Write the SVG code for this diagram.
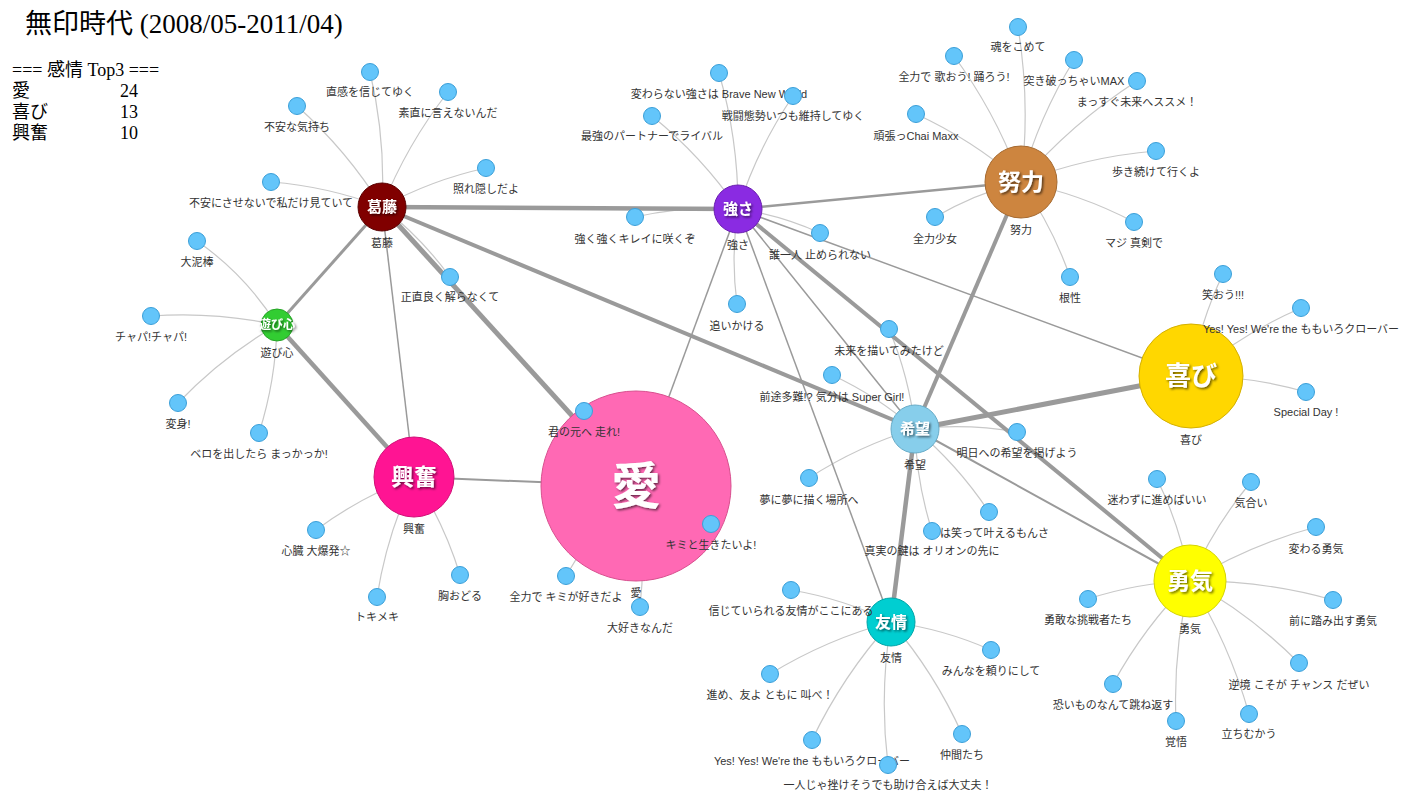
<svg xmlns="http://www.w3.org/2000/svg" width="1406" height="795" viewBox="0 0 1406 795">
<defs>
<filter id="sh" x="-30%" y="-30%" width="160%" height="160%"><feDropShadow dx="1.5" dy="1.5" stdDeviation="1" flood-color="#000" flood-opacity="0.6"/></filter>
<style>
.lk{fill:none;stroke:#c8c8c8;stroke-width:1.2}
.lb{fill:none;stroke:#9a9a9a}
.sn circle{fill:#63c5fa;stroke:#3b9fd8;stroke-width:1}
.lbl{font-family:"Liberation Sans","Noto Sans CJK JP",sans-serif;font-size:11px;fill:#333;text-anchor:middle}
.big{font-family:"Noto Sans CJK JP",sans-serif;font-weight:bold;fill:#fff;text-anchor:middle;filter:url(#sh)}
.hd{font-family:"Liberation Serif","Noto Sans CJK JP",serif;fill:#000}
</style>
</defs>
<rect width="1406" height="795" fill="#fff"/>
<text class="hd" x="25" y="33" font-size="27">無印時代 (2008/05-2011/04)</text>
<g class="hd" font-size="18">
<text x="12" y="76">=== 感情 Top3 ===</text>
<text x="12" y="97">愛</text><text x="120" y="97">24</text>
<text x="12" y="118">喜び</text><text x="120" y="118">13</text>
<text x="12" y="139">興奮</text><text x="120" y="139">10</text>
</g>
<g id="links">
<path class="lk" d="M370 72A474 474 0 0 1 382 207M382 207A464 464 0 0 1 448 92M297 106A462 462 0 0 1 382 207M382 207A389 389 0 0 1 486 168M271 182A398 398 0 0 1 382 207M382 207A342 342 0 0 1 450 277"/>
<path class="lk" d="M197 241A290 290 0 0 1 277 325M151 316A442 442 0 0 1 277 325M178 403A441 441 0 0 1 277 325M259 433A383 383 0 0 0 277 325"/>
<path class="lk" d="M316 530A390 390 0 0 1 414 477M377 597A440 440 0 0 1 414 477M414 477A379 379 0 0 1 460 575"/>
<path class="lk" d="M584 411A320 320 0 0 1 636 486M636 486A294 294 0 0 1 711 524M566 576A399 399 0 0 1 636 486M636 486A424 424 0 0 1 640 607"/>
<path class="lk" d="M719 73A481 481 0 0 1 738 209M738 209A440 440 0 0 1 793 96M652 116A443 443 0 0 1 738 209M635 217A362 362 0 0 1 738 209M738 209A299 299 0 0 1 820 233M737 304A333 333 0 0 1 738 209"/>
<path class="lk" d="M1018 27A543 543 0 0 1 1021 182M954 56A499 499 0 0 1 1021 182M1021 182A466 466 0 0 1 1074 60M1021 182A538 538 0 0 1 1137 81M916 114A438 438 0 0 1 1021 182M1021 182A485 485 0 0 1 1156 151M935 217A325 325 0 0 1 1021 182M1021 182A420 420 0 0 1 1134 222M1021 182A374 374 0 0 1 1070 277"/>
<path class="lk" d="M1191 376A374 374 0 0 1 1223 274M1191 376A453 453 0 0 1 1301 308M1191 376A406 406 0 0 1 1306 392"/>
<path class="lk" d="M889 329A362 362 0 0 1 915 429M832 375A347 347 0 0 1 915 429M915 429A357 357 0 0 1 1017 432M809 478A409 409 0 0 1 915 429M915 429A389 389 0 0 1 989 512M915 429A362 362 0 0 0 932 531"/>
<path class="lk" d="M791 590A368 368 0 0 1 891 622M891 622A363 363 0 0 1 991 650M770 674A461 461 0 0 1 891 622M891 622A464 464 0 0 1 962 734M812 740A497 497 0 0 1 891 622M888 765A501 501 0 0 1 891 622"/>
<path class="lk" d="M1157 479A375 375 0 0 1 1190 581M1190 581A407 407 0 0 1 1251 482M1190 581A480 480 0 0 1 1316 527M1088 599A363 363 0 0 1 1190 581M1190 581A505 505 0 0 1 1333 600M1190 581A477 477 0 0 1 1299 663M1113 684A450 450 0 0 1 1190 581M1176 721A492 492 0 0 1 1190 581M1190 581A509 509 0 0 1 1249 714"/>
<path class="lb" stroke-width="4.5" d="M382 207L738 209"/>
<path class="lb" stroke-width="3" d="M382 207L277 325"/>
<path class="lb" stroke-width="1.5" d="M382 207L414 477"/>
<path class="lb" stroke-width="5" d="M382 207L636 486"/>
<path class="lb" stroke-width="4" d="M382 207L915 429"/>
<path class="lb" stroke-width="4.5" d="M277 325L414 477"/>
<path class="lb" stroke-width="2" d="M414 477L636 486"/>
<path class="lb" stroke-width="1.5" d="M636 486L738 209"/>
<path class="lb" stroke-width="2.5" d="M738 209L1021 182"/>
<path class="lb" stroke-width="1.5" d="M738 209L1191 376"/>
<path class="lb" stroke-width="1.5" d="M738 209L915 429"/>
<path class="lb" stroke-width="4" d="M738 209L1190 581"/>
<path class="lb" stroke-width="1.5" d="M738 209L891 622"/>
<path class="lb" stroke-width="4" d="M1021 182L915 429"/>
<path class="lb" stroke-width="5" d="M915 429L1191 376"/>
<path class="lb" stroke-width="4.5" d="M915 429L891 622"/>
<path class="lb" stroke-width="2" d="M915 429L1190 581"/>
</g>
<g id="e-kattou"><circle cx="382" cy="207" r="24" fill="#800000" stroke="#5a0000"/><text class="big" x="382" y="212" font-size="15">葛藤</text><text class="lbl" x="382" y="247">葛藤</text></g>
<g id="e-tsuyosa"><circle cx="738" cy="209" r="24" fill="#8a2be2" stroke="#6a1fb0"/><text class="big" x="738" y="214" font-size="15">強さ</text><text class="lbl" x="738" y="249">強さ</text></g>
<g id="e-doryoku"><circle cx="1021" cy="182" r="36" fill="#cd853f" stroke="#a66a30"/><text class="big" x="1021" y="190" font-size="23">努力</text><text class="lbl" x="1021" y="234">努力</text></g>
<g id="e-asobi"><circle cx="277" cy="325" r="16" fill="#32cd32" stroke="#27a427"/><text class="big" x="277" y="329" font-size="12">遊び心</text><text class="lbl" x="277" y="357">遊び心</text></g>
<g id="e-yorokobi"><circle cx="1191" cy="376" r="52" fill="#ffd700" stroke="#d4b000"/><text class="big" x="1191" y="385" font-size="26">喜び</text><text class="lbl" x="1191" y="444">喜び</text></g>
<g id="e-kibou"><circle cx="915" cy="429" r="24" fill="#87ceeb" stroke="#68acc8"/><text class="big" x="915" y="434" font-size="15">希望</text><text class="lbl" x="915" y="469">希望</text></g>
<g id="e-koufun"><circle cx="414" cy="477" r="40" fill="#ff1493" stroke="#d00f76"/><text class="big" x="414" y="485" font-size="23">興奮</text><text class="lbl" x="414" y="533">興奮</text></g>
<g id="e-ai"><circle cx="636" cy="486" r="95" fill="#ff69b4" stroke="#d8508f"/><text class="big" x="636" y="504" font-size="50">愛</text><text class="lbl" x="636" y="597">愛</text></g>
<g id="e-yuujou"><circle cx="891" cy="622" r="24" fill="#00ced1" stroke="#00a5a8"/><text class="big" x="891" y="628" font-size="16">友情</text><text class="lbl" x="891" y="662">友情</text></g>
<g id="e-yuuki"><circle cx="1190" cy="581" r="36" fill="#ffff00" stroke="#d4d400"/><text class="big" x="1190" y="589" font-size="23">勇気</text><text class="lbl" x="1190" y="633">勇気</text></g>
<g id="s1" class="sn"><circle cx="370" cy="72" r="8.5"/><text class="lbl" x="370" y="96">直感を信じてゆく</text></g>
<g id="s2" class="sn"><circle cx="448" cy="92" r="8.5"/><text class="lbl" x="448" y="117">素直に言えないんだ</text></g>
<g id="s3" class="sn"><circle cx="297" cy="106" r="8.5"/><text class="lbl" x="297" y="131">不安な気持ち</text></g>
<g id="s4" class="sn"><circle cx="486" cy="168" r="8.5"/><text class="lbl" x="486" y="193">照れ隠しだよ</text></g>
<g id="s5" class="sn"><circle cx="271" cy="182" r="8.5"/><text class="lbl" x="271" y="207">不安にさせないで私だけ見ていて</text></g>
<g id="s6" class="sn"><circle cx="450" cy="277" r="8.5"/><text class="lbl" x="450" y="301">正直良く解らなくて</text></g>
<g id="s7" class="sn"><circle cx="197" cy="241" r="8.5"/><text class="lbl" x="197" y="266">大泥棒</text></g>
<g id="s8" class="sn"><circle cx="151" cy="316" r="8.5"/><text class="lbl" x="151" y="341">チャパ!チャパ!</text></g>
<g id="s9" class="sn"><circle cx="178" cy="403" r="8.5"/><text class="lbl" x="178" y="428">変身!</text></g>
<g id="s10" class="sn"><circle cx="259" cy="433" r="8.5"/><text class="lbl" x="259" y="458">ベロを出したら まっかっか!</text></g>
<g id="s11" class="sn"><circle cx="316" cy="530" r="8.5"/><text class="lbl" x="316" y="555">心臓 大爆発☆</text></g>
<g id="s12" class="sn"><circle cx="377" cy="597" r="8.5"/><text class="lbl" x="377" y="621">トキメキ</text></g>
<g id="s13" class="sn"><circle cx="460" cy="575" r="8.5"/><text class="lbl" x="460" y="600">胸おどる</text></g>
<g id="s14" class="sn"><circle cx="584" cy="411" r="8.5"/><text class="lbl" x="584" y="436">君の元へ 走れ!</text></g>
<g id="s15" class="sn"><circle cx="711" cy="524" r="8.5"/><text class="lbl" x="711" y="549">キミと生きたいよ!</text></g>
<g id="s16" class="sn"><circle cx="566" cy="576" r="8.5"/><text class="lbl" x="566" y="601">全力で キミが好きだよ</text></g>
<g id="s17" class="sn"><circle cx="640" cy="607" r="8.5"/><text class="lbl" x="640" y="632">大好きなんだ</text></g>
<g id="s18" class="sn"><circle cx="719" cy="73" r="8.5"/><text class="lbl" x="719" y="98">変わらない強さは Brave New World</text></g>
<g id="s19" class="sn"><circle cx="793" cy="96" r="8.5"/><text class="lbl" x="793" y="120">戦闘態勢いつも維持してゆく</text></g>
<g id="s20" class="sn"><circle cx="652" cy="116" r="8.5"/><text class="lbl" x="652" y="140">最強のパートナーでライバル</text></g>
<g id="s21" class="sn"><circle cx="635" cy="217" r="8.5"/><text class="lbl" x="635" y="243">強く強くキレイに咲くぞ</text></g>
<g id="s22" class="sn"><circle cx="820" cy="233" r="8.5"/><text class="lbl" x="820" y="259">誰一人 止められない</text></g>
<g id="s23" class="sn"><circle cx="737" cy="304" r="8.5"/><text class="lbl" x="737" y="330">追いかける</text></g>
<g id="s24" class="sn"><circle cx="1018" cy="27" r="8.5"/><text class="lbl" x="1018" y="51">魂をこめて</text></g>
<g id="s25" class="sn"><circle cx="954" cy="56" r="8.5"/><text class="lbl" x="954" y="81">全力で 歌おう! 踊ろう!</text></g>
<g id="s26" class="sn"><circle cx="1074" cy="60" r="8.5"/><text class="lbl" x="1074" y="85">突き破っちゃいMAX</text></g>
<g id="s27" class="sn"><circle cx="1137" cy="81" r="8.5"/><text class="lbl" x="1137" y="106">まっすぐ未来へススメ！</text></g>
<g id="s28" class="sn"><circle cx="916" cy="114" r="8.5"/><text class="lbl" x="916" y="140">頑張っChai Maxx</text></g>
<g id="s29" class="sn"><circle cx="1156" cy="151" r="8.5"/><text class="lbl" x="1156" y="176">歩き続けて行くよ</text></g>
<g id="s30" class="sn"><circle cx="935" cy="217" r="8.5"/><text class="lbl" x="935" y="243">全力少女</text></g>
<g id="s31" class="sn"><circle cx="1134" cy="222" r="8.5"/><text class="lbl" x="1134" y="247">マジ 真剣で</text></g>
<g id="s32" class="sn"><circle cx="1070" cy="277" r="8.5"/><text class="lbl" x="1070" y="302">根性</text></g>
<g id="s33" class="sn"><circle cx="1223" cy="274" r="8.5"/><text class="lbl" x="1223" y="299">笑おう!!!</text></g>
<g id="s34" class="sn"><circle cx="1301" cy="308" r="8.5"/><text class="lbl" x="1301" y="333">Yes! Yes! We're the ももいろクローバー</text></g>
<g id="s35" class="sn"><circle cx="1306" cy="392" r="8.5"/><text class="lbl" x="1306" y="416">Special Day !</text></g>
<g id="s36" class="sn"><circle cx="889" cy="329" r="8.5"/><text class="lbl" x="889" y="355">未来を描いてみたけど</text></g>
<g id="s37" class="sn"><circle cx="832" cy="375" r="8.5"/><text class="lbl" x="832" y="401">前途多難!? 気分は Super Girl!</text></g>
<g id="s38" class="sn"><circle cx="1017" cy="432" r="8.5"/><text class="lbl" x="1017" y="457">明日への希望を掲げよう</text></g>
<g id="s39" class="sn"><circle cx="809" cy="478" r="8.5"/><text class="lbl" x="809" y="504">夢に夢に描く場所へ</text></g>
<g id="s40" class="sn"><circle cx="989" cy="512" r="8.5"/><text class="lbl" x="989" y="537">夢は笑って叶えるもんさ</text></g>
<g id="s41" class="sn"><circle cx="932" cy="531" r="8.5"/><text class="lbl" x="932" y="555">真実の鍵は オリオンの先に</text></g>
<g id="s42" class="sn"><circle cx="791" cy="590" r="8.5"/><text class="lbl" x="791" y="615">信じていられる友情がここにある</text></g>
<g id="s43" class="sn"><circle cx="991" cy="650" r="8.5"/><text class="lbl" x="991" y="675">みんなを頼りにして</text></g>
<g id="s44" class="sn"><circle cx="770" cy="674" r="8.5"/><text class="lbl" x="770" y="699">進め、友よ ともに 叫べ！</text></g>
<g id="s45" class="sn"><circle cx="962" cy="734" r="8.5"/><text class="lbl" x="962" y="759">仲間たち</text></g>
<g id="s46" class="sn"><circle cx="812" cy="740" r="8.5"/><text class="lbl" x="812" y="765">Yes! Yes! We're the ももいろクローバー</text></g>
<g id="s47" class="sn"><circle cx="888" cy="765" r="8.5"/><text class="lbl" x="888" y="789">一人じゃ挫けそうでも助け合えば大丈夫！</text></g>
<g id="s48" class="sn"><circle cx="1157" cy="479" r="8.5"/><text class="lbl" x="1157" y="504">迷わずに進めばいい</text></g>
<g id="s49" class="sn"><circle cx="1251" cy="482" r="8.5"/><text class="lbl" x="1251" y="507">気合い</text></g>
<g id="s50" class="sn"><circle cx="1316" cy="527" r="8.5"/><text class="lbl" x="1316" y="553">変わる勇気</text></g>
<g id="s51" class="sn"><circle cx="1088" cy="599" r="8.5"/><text class="lbl" x="1088" y="624">勇敢な挑戦者たち</text></g>
<g id="s52" class="sn"><circle cx="1333" cy="600" r="8.5"/><text class="lbl" x="1333" y="625">前に踏み出す勇気</text></g>
<g id="s53" class="sn"><circle cx="1299" cy="663" r="8.5"/><text class="lbl" x="1299" y="689">逆境 こそが チャンス だぜい</text></g>
<g id="s54" class="sn"><circle cx="1113" cy="684" r="8.5"/><text class="lbl" x="1113" y="709">恐いものなんて跳ね返す</text></g>
<g id="s55" class="sn"><circle cx="1176" cy="721" r="8.5"/><text class="lbl" x="1176" y="746">覚悟</text></g>
<g id="s56" class="sn"><circle cx="1249" cy="714" r="8.5"/><text class="lbl" x="1249" y="738">立ちむかう</text></g>
</svg>
